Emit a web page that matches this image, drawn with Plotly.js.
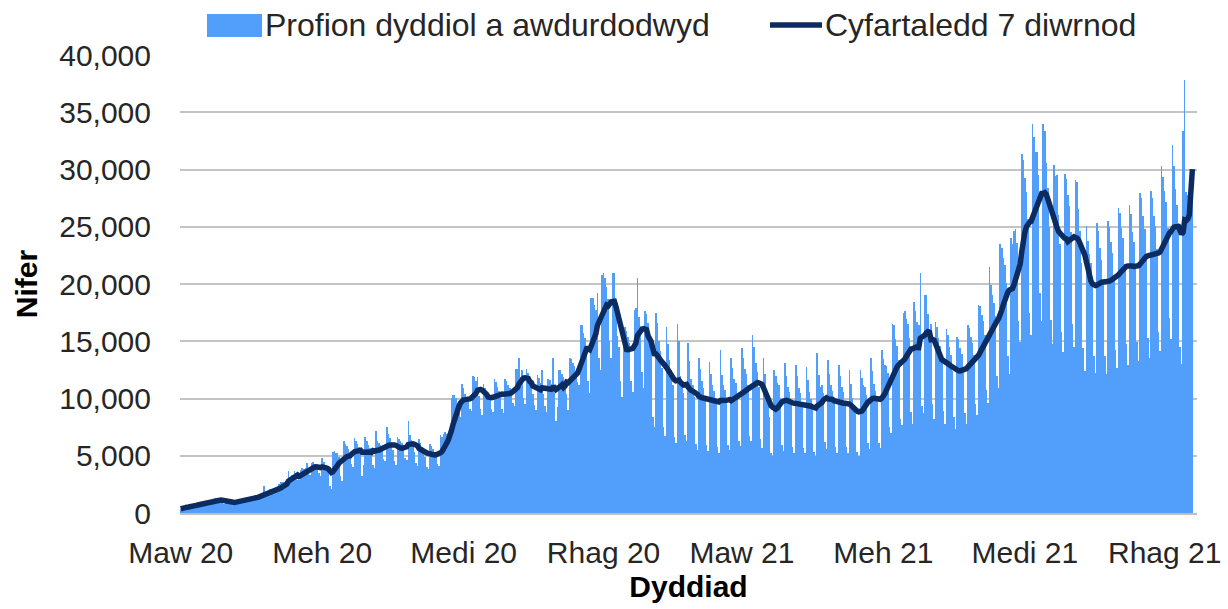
<!DOCTYPE html>
<html>
<head>
<meta charset="utf-8">
<script src="https://cdn.plot.ly/plotly-3.0.1.min.js"></script>
<style>
  html, body { margin: 0; padding: 0; background: #ffffff; }
  #chart { width: 1228px; height: 609px; }
</style>
</head>
<body>
<div id="chart"></div>
<script>
// Daily tests authorised, one array per month
const mar20 = [360,500,550,560,580,590,550,560,760,800,810,820,830,760,750,1000,1060,1060,1090,1090,990,990,1320,1290,1190,1110,1020,850,770,940,980];
const apr20 = [960,970,950,850,830,1090,1130,1110,1130,1120,1020,1000,1320,1390,1370,1380,1370,1230,1220,1610,1690,1690,1710,2380,1520,1500,1970,2060,2040,2090];
const may20 = [2090,1920,1910,2540,2680,2680,2710,2700,2440,3700,3150,3290,3250,3650,3230,2910,2860,3770,3940,3880,3900,4350,3430,3340,4370,4430,4240,4140,3950,3460,3200];
const jun20 = [4800,4460,3960,3650,3460,2340,2110,5300,5400,5240,5280,4910,3260,2820,6290,6060,5830,5600,5080,4300,4060,6530,6290,6040,5800,5260,3200,4190,6650,6310];
const jul20 = [5980,5660,5070,4230,3930,7200,6280,6130,5960,5490,4710,4500,7500,6920,6530,6140,5470,4540,4190,6600,6450,6280,6110,5630,4820,4600,8000,6820,6400,6000,5330];
const aug20 = [4400,4080,6440,6110,5780,5450,4860,4050,3800,6070,5820,5570,5310,4950,4280,4130,6770,6660,6910,7100,6890,6260,6320,10080,10300,10300,10070,9550,8720,8380,11250];
const sep20 = [10920,10420,10010,9710,9060,8900,11980,11880,11560,11900,10210,9100,8530,11270,10960,10460,10320,9870,9080,8800,11690,11450,11010,10670,10020,9060,8700,11670,11520,11160];
const oct20 = [10910,10440,9620,9320,12620,12580,13500,11900,12500,10050,9530,12580,12220,11640,11190,10420,9450,9020,12030,11810,11380,12500,10350,9340,8850,11730,11600,11280,13500,10480,8000];
const nov20 = [9290,12530,12450,12130,11910,11340,10390,9000,13500,13420,13080,12870,12250,11400,11160,16440,16440,15730,15270,14070,11500,10500,18770,18790,18140,17760,19190,13500,12500,20800];
const dec20 = [20920,20500,19760,18670,15000,13500,21000,21000,17500,15500,14500,11500,10090,16190,16250,15880,15370,14810,11550,10570,17700,17870,20500,17100,16300,12290,10880,17620,17370,16590,15680];
const jan21 = [14230,8360,7550,17500,16610,15030,14160,12660,7480,6740,16270,14790,13350,12530,11170,6670,6080,16500,15000,12000,11500,10500,6800,6300,14880,13240,11670,11140,10110,6050,5540];
const feb21 = [13570,12540,11510,10960,9910,5920,5400,13190,12150,11160,10640,9650,5770,5280,14200,12040,11150,10740,9820,5930,5470,13510,12640,11730,11330,10400,6290,5820];
const mar21 = [14450,13530,12570,12160,11160,6760,6260,15530,14510,13130,12340,11030,6420,5710,13570,12150,10670,9740,8410,5220,4940,12530,11960,11340,11170,10030,5950,5390,13080,11960,11010];
const apr21 = [10530,9570,5740,5260,12890,11930,10950,10450,9480,5680,5200,12730,11640,10570,9990,8960,5300,5010,14000,12050,11000,11200,10450,6160,5550,13370,12150,11140,10630,9630];
const may21 = [5770,5280,12920,11960,11010,10530,9570,5740,5260,12530,11240,10010,9250,8610,5290,4960,12460,11790,11180,11010,10300,6120,5560,13510,12390,11290,10690,9920,6080,5680,14230];
const jun21 = [13430,12910,12880,12200,7490,7030,16500,16430,15200,14620,13360,8190,7670,17500,17600,16950,16500,15250,8830,7800,18430,17600,16700,16450,21000,9320,8710,19000,19040,17380];
const jul21 = [16060,16500,9510,8200,16700,16250,15280,14580,13210,8900,7790,16080,15560,14520,13770,12420,8370,7320,15390,15160,14420,13930,12770,8770,7810,16430,16180,15390,14850,13760,9530];
const aug21 = [8570,18190,18070,17300,16810,15510,10710,9590,21500,19940,19000,18370,17180,12000,10880,23500,23130,22230,21660,20050,13680,12120,24000,23500,24640,24770,23610,16800,14940,31360,30850];
const sep21 = [29220,28070,25640,17510,15520,34000,32840,31560,31500,29500,19180,16740,34000,33330,30530,28350,25000,16850,14740,30430,29430,29500,26060,23470,15810,14080,29610,29160,27740,26770];
const oct21 = [24560,16550,14480,29100,28900,26520,24670,21800,14430,12380,25060,23750,22590,21800,19990,13720,12200,25340,24630,23140,22060,20130,13750,12180,25480,24970,23630,22690,20800,14250,12680];
const nov21 = [26630,26180,24870,23980,21730,14720,12950,26890,26150,24560,23700,21750,14920,13280,27910,27470,25900,24770,22520,15310,13510,28150,27470,25900,25060,23040,15850,14140,30300,29330];
const dec21 = [28130,27140,24880,17050,15170,32100,30330,28340,26860,25290,14500,13000,33400,37800,28000,27800,27700,27600,27900];

const firstDay = '2020-03-01';
const tickDates = ['2020-03-01','2020-06-01','2020-09-01','2020-12-01','2021-03-01','2021-06-01','2021-09-01','2021-12-01'];
const tickLabels = ['Maw 20','Meh 20','Medi 20','Rhag 20','Maw 21','Meh 21','Medi 21','Rhag 21'];
const seriesNames = ['Profion dyddiol a awdurdodwyd', 'Cyfartaledd 7 diwrnod'];

const tests = [].concat(mar20, apr20, may20, jun20, jul20, aug20, sep20, oct20, nov20, dec20,
                        jan21, feb21, mar21, apr21, may21, jun21, jul21, aug21, sep21, oct21, nov21, dec21);

// calendar dates for each daily value
const t0 = Date.parse(firstDay + 'T00:00:00Z');
const dates = tests.map((_, i) => new Date(t0 + i * 86400000).toISOString().slice(0, 10));

// 7-day (trailing) average of the daily values
const avg7 = tests.map((_, i) => {
  const s = Math.max(0, i - 6);
  const w = tests.slice(s, i + 1);
  return w.reduce((a, b) => a + b, 0) / w.length;
});

const BAR = 'rgba(80,157,251,0.99)';
const LINE = '#0C2C61';

const traces = [
  { type: 'bar', x: dates, y: tests, name: seriesNames[0],
    marker: { color: BAR, line: { width: 0 } }, hoverinfo: 'skip' },
  { type: 'scatter', mode: 'lines', x: dates, y: avg7, name: seriesNames[1],
    line: { color: LINE, width: 5.5 }, hoverinfo: 'skip' }
];

// plot area: x 180..1197 px, y 55..513 px
const px = v => (v - 180) / 1017;
const py = v => (513 - v) / 458;

const layout = {
  width: 1228, height: 609,
  margin: { l: 180, r: 31, t: 55, b: 96 },
  paper_bgcolor: '#ffffff', plot_bgcolor: '#ffffff',
  showlegend: false,
  bargap: 0,
  font: { family: 'Liberation Sans, Arial, sans-serif', color: '#262626' },
  xaxis: {
    type: 'date',
    range: ['2020-02-29 12:00', '2021-12-22'],
    tickmode: 'array', tickvals: tickDates, ticktext: tickLabels,
    tickfont: { size: 30, color: '#262626' },
    ticks: 'outside', ticklen: 12, tickcolor: 'rgba(0,0,0,0)',
    showgrid: false, zeroline: false,
    showline: true, linecolor: '#BFBFBF', linewidth: 1.5,
    title: { text: '<b>Dyddiad</b>', font: { size: 30, color: '#000000' }, standoff: 8 }
  },
  yaxis: {
    range: [0, 40000], tick0: 0, dtick: 5000, tickformat: ',d',
    tickfont: { size: 30, color: '#262626' },
    ticks: 'outside', ticklen: 22, tickcolor: 'rgba(0,0,0,0)',
    showgrid: true, gridcolor: '#C4C4C4', gridwidth: 1.5,
    zeroline: false, showline: false,
    title: { text: '<b>Nifer</b>', font: { size: 30, color: '#000000' }, standoff: 12 }
  },
  shapes: [
    { type: 'rect', xref: 'paper', yref: 'paper', x0: px(207), x1: px(262), y0: py(37), y1: py(14),
      fillcolor: BAR, line: { width: 0 } },
    { type: 'line', xref: 'paper', yref: 'paper', x0: px(770), x1: px(822), y0: py(25), y1: py(25),
      line: { color: LINE, width: 5.5 } }
  ],
  annotations: [
    { xref: 'paper', yref: 'paper', x: px(263), y: py(25), xanchor: 'left', yanchor: 'middle',
      text: seriesNames[0], showarrow: false, font: { size: 32, color: '#262626' } },
    { xref: 'paper', yref: 'paper', x: px(823), y: py(25), xanchor: 'left', yanchor: 'middle',
      text: seriesNames[1], showarrow: false, font: { size: 32, color: '#262626' } }
  ]
};

Plotly.newPlot('chart', traces, layout, { displayModeBar: false, responsive: false });
</script>
</body>
</html>
